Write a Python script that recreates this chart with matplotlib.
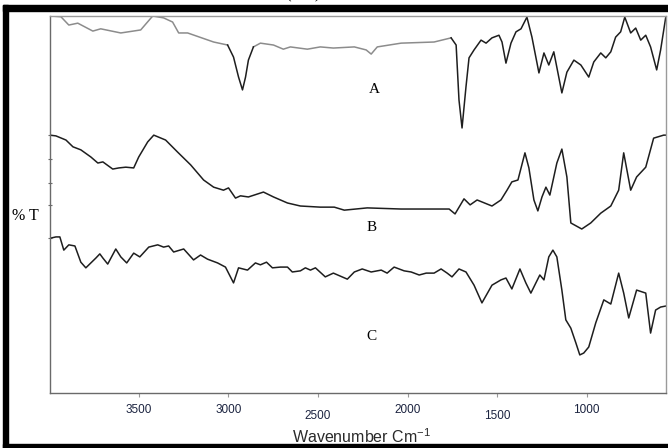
import numpy as np
import matplotlib
matplotlib.use('Agg')
import matplotlib.pyplot as plt
from matplotlib.patches import Rectangle

plt.rcParams['mathtext.fontset'] = 'custom'
plt.rcParams['mathtext.rm'] = 'Liberation Sans'

# # Data (wavenumber in cm-1, %T on an arbitrary 0-100 scale, spectra offset)

wn_a = [3990, 3934, 3890, 3840, 3756, 3712, 3600, 3489, 3422, 3361, 3311, 3277, 3227, 3082,
        3004, 2971, 2943, 2921, 2904, 2888, 2860, 2821, 2748, 2693, 2654, 2559, 2487, 2414,
        2297, 2231, 2203, 2169, 2036, 1852, 1757, 1729, 1713, 1696, 1674, 1657, 1629, 1590,
        1562, 1529, 1490, 1473, 1451, 1423, 1395, 1367, 1334, 1306, 1267, 1239, 1212, 1184,
        1139, 1111, 1072, 1033, 989, 961, 922, 894, 866, 839, 811, 788, 755, 727, 699, 671,
        644, 610, 588, 560]
t_a = [100.0, 99.8, 97.6, 98.1, 96.0, 96.6, 95.5, 96.3, 100.0, 99.5, 98.4, 95.5, 95.5, 93.1,
       92.3, 89.1, 83.8, 80.4, 83.8, 88.3, 91.8, 92.8, 92.3, 91.2, 91.8, 91.2, 91.8, 91.5,
       91.8, 91.0, 89.9, 91.8, 92.8, 93.1, 94.2, 92.3, 77.7, 70.3, 81.2, 88.9, 91.0, 93.6,
       92.8, 94.2, 94.9, 93.1, 87.5, 92.8, 95.8, 96.6, 99.7, 94.4, 84.9, 90.2, 87.0, 90.5,
       79.6, 85.1, 88.3, 87.0, 83.8, 87.8, 90.2, 88.9, 90.5, 94.4, 95.8, 99.7, 95.5, 96.8,
       93.6, 94.9, 91.8, 85.7, 91.0, 99.5]

wn_b = [3996, 3962, 3906, 3867, 3823, 3767, 3728, 3700, 3645, 3611, 3572, 3528, 3500, 3450,
        3416, 3350, 3283, 3210, 3138, 3082, 3027, 2999, 2960, 2932, 2888, 2804, 2748, 2670,
        2598, 2487, 2409, 2353, 2225, 2036, 1852, 1768, 1735, 1685, 1651, 1612, 1529, 1479,
        1445, 1418, 1384, 1345, 1323, 1295, 1273, 1250, 1228, 1206, 1167, 1139, 1111, 1089,
        1028, 978, 922, 866, 822, 794, 755, 722, 671, 627, 571, 555]
t_b = [68.4, 68.2, 67.1, 65.3, 64.5, 62.6, 61.0, 61.3, 59.4, 59.7, 59.9, 59.7, 62.6, 66.6,
       68.4, 67.1, 63.9, 60.5, 56.5, 54.6, 53.8, 54.4, 51.7, 52.3, 52.0, 53.3, 52.0, 50.4,
       49.6, 49.3, 49.3, 48.5, 49.1, 48.8, 48.8, 48.8, 47.5, 51.5, 49.9, 51.2, 49.6, 51.2,
       53.8, 56.0, 56.5, 63.7, 59.7, 51.2, 48.3, 52.0, 54.6, 52.5, 61.0, 64.7, 57.3, 45.1,
       43.5, 45.1, 47.7, 49.6, 53.8, 63.7, 53.8, 57.3, 59.9, 67.6, 68.4, 68.4]

wn_c = [3990, 3962, 3940, 3918, 3890, 3856, 3823, 3795, 3767, 3739, 3717, 3700, 3673, 3628,
        3600, 3567, 3528, 3494, 3444, 3394, 3361, 3333, 3305, 3249, 3194, 3155, 3116, 3060,
        3016, 2971, 2943, 2893, 2849, 2821, 2787, 2754, 2709, 2670, 2643, 2598, 2570, 2542,
        2514, 2459, 2414, 2336, 2297, 2253, 2203, 2147, 2114, 2075, 2019, 1980, 1935, 1896,
        1852, 1813, 1779, 1752, 1713, 1674, 1629, 1585, 1529, 1479, 1451, 1418, 1373, 1340,
        1312, 1284, 1262, 1239, 1212, 1189, 1167, 1139, 1117, 1089, 1061, 1039, 1017, 989,
        950, 905, 866, 822, 794, 766, 722, 671, 644, 616, 588, 555]
t_c = [41.1, 41.4, 41.4, 37.9, 39.3, 39.0, 34.7, 33.2, 34.5, 35.8, 36.9, 35.8, 34.2, 38.2,
       36.1, 34.5, 37.1, 36.1, 38.7, 39.3, 38.7, 39.0, 37.4, 38.2, 35.3, 36.6, 35.5, 34.5,
       33.4, 29.2, 33.2, 32.6, 34.5, 34.0, 34.7, 33.2, 33.4, 33.4, 32.1, 32.4, 33.2, 32.6,
       33.2, 30.8, 31.8, 30.2, 32.1, 32.9, 32.1, 32.6, 31.8, 33.4, 32.4, 32.1, 31.3, 31.8,
       31.8, 32.9, 31.8, 30.8, 32.9, 32.1, 28.6, 23.9, 28.6, 30.0, 30.5, 27.6, 32.9, 29.2,
       26.5, 29.2, 31.3, 30.0, 36.1, 37.9, 36.1, 27.3, 19.4, 17.2, 13.3, 10.1, 10.6, 12.2,
       18.6, 24.7, 23.6, 31.8, 26.5, 19.9, 27.3, 26.5, 15.9, 22.0, 22.8, 23.1]

xticks_major = [3500, 3000, 2000, 1000]
xticks_minor = [2500, 1500]
left_ticks = [68.4, 62.1, 55.7, 49.9, 41.1]
curve_names = ['A', 'B', 'C']
name_wn = [2186, 2203, 2203]
name_t = [80.6, 44.0, 14.9]


fig = plt.figure(figsize=(6.68, 4.48), dpi=100)
ax = fig.add_axes([50 / 668, 55 / 448, 616 / 668, 377 / 448])

line_col = '#1e1e1e'
lw = 1.1

# spectrum A: light grey above ~1760 except the C-H dip
wa = np.array(wn_a, dtype=float)
ta = np.array(t_a, dtype=float)
grey = (wa >= 1757) & ~((wa < 2990) & (wa > 2870))
dark = ~grey
dark = dark | np.roll(dark, 1) | np.roll(dark, -1)
ax.plot(wa, np.where(grey, ta, np.nan), color='#8c8c8c', lw=lw)
ax.plot(wa, np.where(dark, ta, np.nan), color=line_col, lw=lw)

ax.plot(wn_b, t_b, color=line_col, lw=lw)
ax.plot(wn_c, t_c, color=line_col, lw=lw)

ax.set_xlim(3995, 558)
ax.set_ylim(0, 100)

for s in ax.spines.values():
    s.set_color('#9a9a9a')
    s.set_linewidth(1.0)
ax.spines['left'].set_color('#6a6a6a')
ax.spines['bottom'].set_color('#6a6a6a')

ax.set_xticks(xticks_major, labels=[str(v) for v in xticks_major])
ax.set_xticks(xticks_minor, labels=[str(v) for v in xticks_minor], minor=True)
for lbl in ax.get_xticklabels(which='both'):
    lbl.set_fontfamily('Liberation Sans')
    lbl.set_fontsize(8.5)
ax.tick_params(axis='x', which='major', direction='out', length=3, width=0.8,
               color='#9a9a9a', labelcolor='#1c2440', pad=5)
ax.tick_params(axis='x', which='minor', direction='out', length=3, width=0.8,
               color='#9a9a9a', labelcolor='#1c2440', pad=9.5)

ax.set_yticks(left_ticks, labels=[''] * len(left_ticks))
ax.tick_params(axis='y', direction='inout', length=3, width=0.8, color='#6a6a6a')

ax.set_xlabel('Wavenumber Cm$^{-1}$', fontfamily='Liberation Sans', fontsize=11.5,
              color='#2a2a2a')
ax.xaxis.set_label_coords(0.506, -0.09)

ax.text(-0.062, 0.47, '% T', transform=ax.transAxes, family='Liberation Serif',
        fontsize=11.5, ha='left', va='center')

for name, x, y in zip(curve_names, name_wn, name_t):
    ax.text(x, y, name, family='Liberation Serif', fontsize=11, ha='center', va='center')

# black frame of the original figure
fig.patches.append(Rectangle((3 / 668, 0), 5 / 668, 443 / 448, transform=fig.transFigure,
                             color='black', zorder=5))
fig.patches.append(Rectangle((3 / 668, 437 / 448), 665 / 668, 6 / 448,
                             transform=fig.transFigure, color='black', zorder=5))
fig.patches.append(Rectangle((3 / 668, 0), 665 / 668, 4 / 448, transform=fig.transFigure,
                             color='black', zorder=5))

# caption cut off at the top edge
fig.text(303 / 668, 450 / 448, '(a.u.)', family='Liberation Serif', fontsize=12,
         ha='center', va='baseline')

fig.savefig('out.png', dpi=100)
